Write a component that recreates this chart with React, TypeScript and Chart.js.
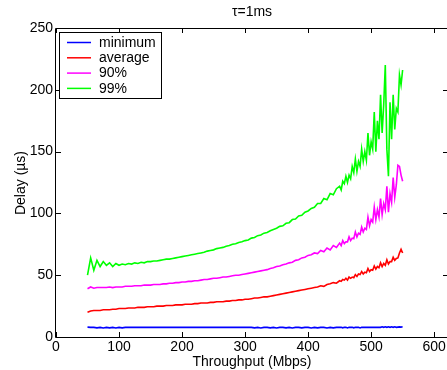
import { useEffect, useRef } from "react";
import { Chart, registerables } from "chart.js";

Chart.register(...registerables);

const throughput = [
  50, 55, 60, 65, 70, 75, 80, 85, 90, 95,
  100, 105, 110, 115, 120, 125, 130, 135, 140, 145,
  150, 155, 160, 165, 170, 175, 180, 185, 190, 195,
  200, 205, 210, 215, 220, 225, 230, 235, 240, 245,
  250, 255, 260, 265, 270, 275, 280, 285, 290, 295,
  300, 305, 310, 315, 320, 325, 330, 335, 340, 345,
  350, 355, 360, 365, 370, 375, 380, 385, 390, 395,
  400, 405, 410, 415, 420, 425, 430, 435, 440, 445,
  450,
  452.5, 455, 457.5, 460, 462.5, 465, 467.5, 470, 472.5, 475,
  477.5, 480, 482.5, 485, 487.5, 490, 492.5, 495, 497.5, 500,
  502.5, 505, 507.5, 510, 512.5, 515, 517.5, 520, 522.5, 525,
  527.5, 530, 532.5, 535, 537.5, 540, 542.5, 545, 547.5, 550,
];

const minimum = [
  8, 7.8, 7.8, 7.4, 7.8, 7.3, 7.8, 7.4, 7.8, 7.3,
  7.8, 7.4, 7.8, 7.8, 7.8, 7.8, 7.8, 7.8, 7.8, 7.8,
  7.8, 7.8, 7.8, 7.8, 7.8, 7.8, 7.8, 7.8, 7.8, 7.8,
  7.8, 7.8, 7.8, 7.8, 7.8, 7.8, 7.8, 7.8, 7.8, 7.8,
  7.8, 7.8, 7.8, 7.8, 7.8, 7.8, 7.8, 7.8, 7.8, 7.8,
  7.8, 7.8, 7.8, 7.4, 7.8, 7.3, 7.8, 7.8, 7.4, 7.8,
  7.3, 7.8, 7.8, 7.4, 7.8, 7.3, 7.8, 7.8, 7.4, 7.8,
  7.8, 7.3, 7.8, 7.4, 7.8, 7.8, 7.3, 7.8, 7.4, 7.8,
  7.8,
  7.8, 7.4, 7.8, 7.8, 7.3, 7.8, 7.8, 7.8, 7.4, 7.8,
  7.8, 7.8, 7.3, 7.8, 7.8, 7.8, 7.8, 7.8, 7.8, 7.8,
  7.8, 7.8, 7.8, 7.8, 7.8, 7.8, 8.3, 7.8, 8.3, 7.8,
  8.3, 7.8, 8.3, 7.8, 8.3, 7.8, 8, 8.2, 8, 8.3,
];

const average = [
  20, 21, 21.5, 21.5, 21.5, 22, 22, 22, 22.5, 22.5,
  23, 23, 23, 23.5, 23.5, 23.5, 24, 24, 24, 24.5,
  24.5, 24.5, 25, 25, 25, 25.5, 25.5, 25.5, 26, 26,
  26, 26.5, 26.5, 26.5, 27, 27, 27.5, 27.5, 27.5, 28,
  28, 28.5, 28.5, 28.5, 29, 29, 29.5, 29.5, 30, 30,
  30.5, 30.5, 31, 31.5, 31.5, 32, 32.5, 32.5, 33, 33.5,
  34, 34.5, 35, 35.5, 36, 36.5, 37, 37.5, 38, 38.5,
  39, 39.5, 40, 40.5, 41.5, 41, 42.5, 43, 44, 43.5,
  45.5,
  45, 46.5, 46, 47.5, 46, 48.5, 47.5, 48.5, 48, 50.5,
  49, 51, 50.5, 53, 51, 52.5, 52, 55.5, 53, 54.5,
  54, 57.5, 55, 57, 56, 60, 57, 59.5, 58, 62.5,
  59, 61, 61, 64.5, 62, 63.5, 64, 68, 71, 68,
];

const p90 = [
  39, 40.5, 39.5, 40, 40, 40, 40, 40.5, 40, 40.5,
  40.5, 40.5, 41, 41, 41, 41.5, 41.5, 41.5, 42, 42,
  42, 42.5, 42.5, 42.5, 43, 43, 43.5, 43.5, 44, 44,
  44.5, 44.5, 45, 45, 45.5, 45.5, 46, 46.5, 46.5, 47,
  47.5, 47.5, 48, 48.5, 48.5, 49, 49.5, 50, 50, 50.5,
  51, 51.5, 52, 52.5, 53, 53.5, 54, 54.5, 55.5, 56,
  57, 57.5, 58.5, 59, 60, 60.5, 62, 62.5, 64, 64.5,
  66, 66.5, 68, 67.5, 70, 69, 72, 70.5, 74, 72.5,
  76,
  74, 78, 75.5, 77, 77, 81, 78, 80, 79.5, 85,
  81, 84, 83, 89, 85, 88, 87, 97, 90, 95,
  93, 105, 95, 103, 97, 112, 99, 108, 103, 122,
  101, 116, 109, 129, 113, 123, 139, 138, 131, 126,
];

const p99 = [
  50, 64, 54, 62, 57, 61, 58, 60, 57, 59.5,
  58, 59, 58.5, 59.5, 59, 60, 59.5, 60.5, 60, 61,
  61, 61.5, 61.5, 62, 62.5, 63, 63, 63.5, 64, 64.5,
  65, 65.5, 66, 66.5, 67, 67.5, 68, 68.5, 69.5, 70,
  70.5, 71.5, 72, 72.5, 73.5, 74, 75, 75.5, 76.5, 77,
  78, 78.5, 80, 80.5, 82, 82.5, 84, 84.5, 86, 87,
  88, 89.5, 90, 92, 92.5, 95, 95.5, 98, 98.5, 101,
  102, 104, 105, 108, 108, 112, 111, 116, 115, 120,
  122,
  119, 126, 124, 130, 125, 131, 128, 138, 133, 144,
  134, 142, 138, 152, 142, 150, 143, 165, 147, 158,
  152, 182, 150, 175, 160, 196, 165, 188, 220, 152,
  130, 190, 160, 196, 168, 185, 182, 212, 204, 216,
];

const seriesNames = ["minimum", "average", "90%", "99%"];
const seriesColors = ["#0000ff", "#ff0000", "#ff00ff", "#00ff00"];
const xTickValues = [0, 100, 200, 300, 400, 500, 600];
const yTickValues = [0, 50, 100, 150, 200, 250];
const titleText = "τ=1ms";
const xLabelText = "Throughput (Mbps)";
const yLabelText = "Delay (µs)";

const FONT = '"Liberation Sans", Arial, Helvetica, sans-serif';

export default function App() {
  const ref = useRef<HTMLCanvasElement | null>(null);

  useEffect(() => {
    document.body.style.overflow = "hidden";
    const canvas = ref.current;
    if (!canvas) return;
    const allSeries = [minimum, average, p90, p99];

    const decor = {
      id: "matlabDecor",
      afterDraw(chart: any) {
        const ctx = chart.ctx as CanvasRenderingContext2D;
        const { left, right, top, bottom } = chart.chartArea;
        const xs = chart.scales.x;
        const ys = chart.scales.y;
        ctx.save();
        ctx.strokeStyle = "#000";
        ctx.lineWidth = 1;
        ctx.beginPath();
        ctx.rect(left - 0.5, top + 0.5, right - left, bottom - top);
        ctx.stroke();
        ctx.beginPath();
        for (const v of xTickValues) {
          const px = Math.round(xs.getPixelForValue(v)) + 0.5;
          ctx.moveTo(px, bottom);
          ctx.lineTo(px, bottom - 5);
          ctx.moveTo(px, top);
          ctx.lineTo(px, top + 5);
        }
        for (const v of yTickValues) {
          const py = Math.round(ys.getPixelForValue(v)) + 0.5;
          ctx.moveTo(left, py);
          ctx.lineTo(left + 5, py);
          ctx.moveTo(right, py);
          ctx.lineTo(right - 5, py);
        }
        ctx.stroke();

        // legend
        ctx.fillStyle = "#fff";
        ctx.fillRect(59.5, 32.5, 102, 66);
        ctx.strokeStyle = "#000";
        ctx.strokeRect(59.5, 32.5, 102, 66);
        ctx.font = `14px ${FONT}`;
        ctx.textBaseline = "middle";
        ctx.textAlign = "left";
        seriesNames.forEach((name, i) => {
          const y = 42.5 + i * 15.3;
          ctx.strokeStyle = seriesColors[i];
          ctx.lineWidth = 1.5;
          ctx.beginPath();
          ctx.moveTo(67, y);
          ctx.lineTo(91, y);
          ctx.stroke();
          ctx.fillStyle = "#000";
          ctx.fillText(name, 99, y + 0.5);
        });

        // title and axis labels
        ctx.fillStyle = "#000";
        ctx.textAlign = "center";
        ctx.textBaseline = "middle";
        ctx.font = `14px ${FONT}`;
        ctx.fillText(titleText, 252, 12);
        ctx.fillText(xLabelText, 252, 362);
        ctx.translate(21, 183);
        ctx.rotate(-Math.PI / 2);
        ctx.fillText(yLabelText, 0, 0);
        ctx.restore();
      },
    };

    const chart = new Chart(canvas, {
      type: "line",
      data: {
        datasets: allSeries.map((arr, i) => ({
          label: seriesNames[i],
          data: throughput.map((x, j) => ({ x, y: arr[j] })),
          borderColor: seriesColors[i],
          backgroundColor: seriesColors[i],
          borderWidth: 1.6,
          pointRadius: 0,
          tension: 0,
          fill: false,
        })),
      },
      options: {
        animation: false,
        responsive: false,
        devicePixelRatio: 1,
        layout: { padding: { left: 0, top: 28, right: 12, bottom: 0 } },
        plugins: {
          legend: { display: false },
          title: { display: false },
          tooltip: { enabled: false },
        },
        scales: {
          x: {
            type: "linear",
            min: 0,
            max: 622,
            grid: { display: false, drawTicks: false },
            border: { display: false },
            ticks: {
              stepSize: 100,
              includeBounds: false,
              color: "#000",
              padding: 2,
              maxRotation: 0,
              font: { family: FONT, size: 14 },
            },
            afterFit: (s: any) => {
              s.height = 33;
            },
          },
          y: {
            type: "linear",
            min: 0,
            max: 250,
            grid: { display: false, drawTicks: false },
            border: { display: false },
            ticks: {
              stepSize: 50,
              color: "#000",
              padding: 3,
              font: { family: FONT, size: 14 },
            },
            afterFit: (s: any) => {
              s.width = 56;
            },
          },
        },
      },
      plugins: [decor],
    });
    return () => chart.destroy();
  }, []);

  return (
    <div
      style={{
        position: "fixed",
        left: 0,
        top: 0,
        width: 460,
        height: 370,
        background: "#fff",
        overflow: "hidden",
      }}
    >
      <canvas ref={ref} width={460} height={370} style={{ display: "block" }} />
    </div>
  );
}
